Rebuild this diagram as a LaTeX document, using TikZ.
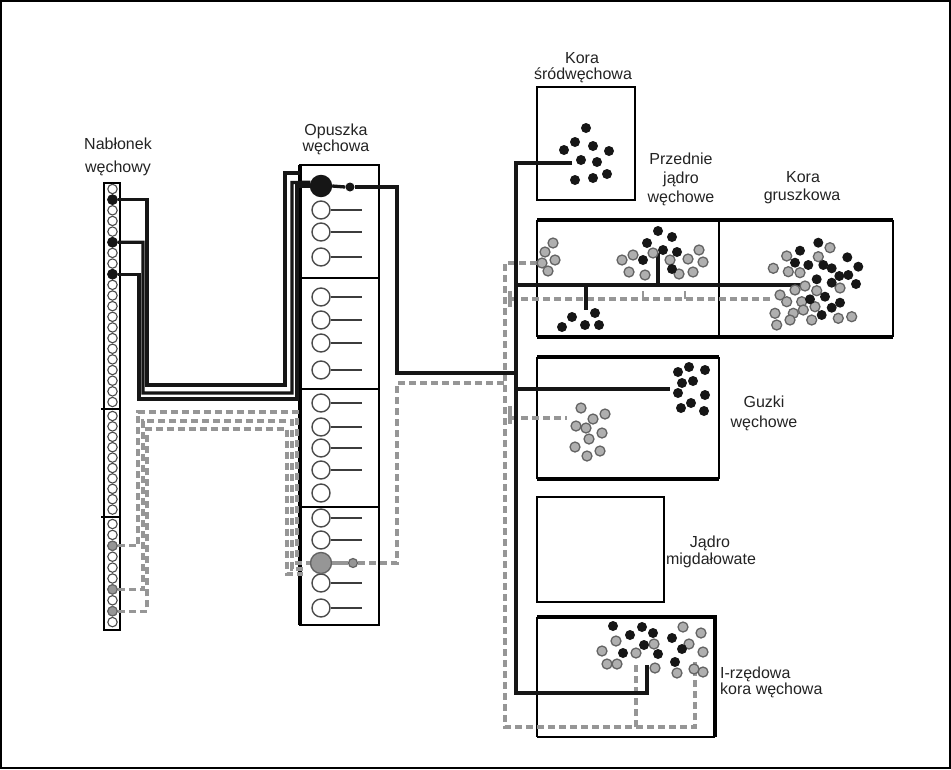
\documentclass[tikz,border=0pt]{standalone}
\usepackage{fontspec}
\setmainfont{Liberation Sans}
\definecolor{ink}{RGB}{22,22,22}
\definecolor{txt}{RGB}{35,35,35}
\definecolor{gline}{RGB}{150,150,150}
\definecolor{gfill}{RGB}{175,175,175}
\definecolor{gedge}{RGB}{100,100,100}
\definecolor{cedge}{RGB}{75,75,75}
\definecolor{stubc}{RGB}{60,60,60}
\begin{document}
\begin{tikzpicture}[x=1pt,y=-1pt]
\tikzset{
 wire/.style={line width=3.3pt, draw=ink},
 gdash/.style={line width=3.3pt, draw=gline, dash pattern=on 7pt off 4pt},
 gsolid/.style={line width=3.3pt, draw=gline},
 epi/.style={circle, draw=cedge, line width=1.1pt, minimum size=9.4pt, inner sep=0pt, fill=white},
 bc/.style={circle, draw=cedge, line width=1.4pt, minimum size=18pt, inner sep=0pt, fill=white},
 bdot/.style={circle, fill=ink, minimum size=10pt, inner sep=0pt},
 gdot/.style={circle, fill=gfill, draw=gedge, line width=1.3pt, minimum size=10pt, inner sep=0pt},
 stub/.style={line width=1.5pt, draw=stubc},
 lbl/.style={font=\fontsize{16}{19}\selectfont, text=txt, inner sep=0pt},
}
\useasboundingbox (0,0) rectangle (951,769);
\draw[line width=1.8pt] (0.9,0.9) rectangle (950.1,768.1);

% ---------- labels
\node[lbl,anchor=base] (l1a) at (118,149) {Nabłonek};
\node[lbl,anchor=base] (l1b) at (118,172) {węchowy};
\node[lbl,anchor=base] (l2a) at (336,135) {Opuszka};
\node[lbl,anchor=base] (l2b) at (336,151) {węchowa};
\node[lbl,anchor=base] (l3a) at (582,63) {Kora};
\node[lbl,anchor=base] (l3b) at (583,79) {śródwęchowa};
\node[lbl,anchor=base] (l4a) at (681,164) {Przednie};
\node[lbl,anchor=base] (l4b) at (681,183) {jądro};
\node[lbl,anchor=base] (l4c) at (681,202) {węchowe};
\node[lbl,anchor=base] (l5a) at (803,182) {Kora};
\node[lbl,anchor=base] (l5b) at (802,200) {gruszkowa};
\node[lbl,anchor=base] (l6a) at (764,407) {Guzki};
\node[lbl,anchor=base] (l6b) at (764,427) {węchowe};
\node[lbl,anchor=base] (l7a) at (710,547) {Jądro};
\node[lbl,anchor=base] (l7b) at (711,564) {migdałowate};
\node[lbl,anchor=base west] (l8a) at (720,678) {I-rzędowa};
\node[lbl,anchor=base west] (l8b) at (720,694) {kora węchowa};

% ---------- right boxes
\draw[line width=2.2pt] (537,87) rectangle (635,200);
\draw[line width=1.6pt] (537,220) -- (537,337) (893,220) -- (893,337);
\draw[line width=1.3pt] (719,220) -- (719,337);
\draw[line width=3.8pt] (537,220) -- (893,220) (537,337) -- (893,337);
\draw[line width=2pt] (537,357) -- (537,479) (719,357) -- (719,479);
\draw[line width=3.4pt] (537,357) -- (719,357) (537,479) -- (719,479);
\draw[line width=2.8pt] (537,497) rectangle (664,602);
\draw[line width=2pt] (537,617) -- (537,737);
\draw[line width=3.4pt] (537,617) -- (715,617) -- (715,737);
\draw[line width=2.8pt] (537,737) -- (715,737);

% ---------- epithelium column
\draw[line width=1.5pt] (104,183) rectangle (120,630);
\draw[line width=2.6pt] (104,183) -- (104,630);
\draw[line width=2.6pt] (103,183) -- (120,183) (103,630) -- (120,630);
\draw[line width=2.6pt] (101,409) -- (120,409) (101,517) -- (120,517);
\foreach \k in {0,...,20} \node[epi] (eA\k) at (112.5,{189+10.65*\k}) {};
\foreach \k in {0,...,9} \node[epi] (eB\k) at (112.5,{416+10.4*\k}) {};
\foreach \k in {0,...,9} \node[epi] (eC\k) at (112.5,{524+10.9*\k}) {};
\foreach \n in {eA1,eA5,eA8} \node[epi, fill=ink, draw=ink] at (\n) {};
\foreach \n in {eC2,eC6,eC8} \node[epi, fill=gline, draw=gedge] at (\n) {};

% ---------- bulb
\draw[line width=2.4pt] (300,165) rectangle (379,625);
\draw[line width=2.6pt] (300,278) -- (379,278) (300,389) -- (379,389) (300,507) -- (379,507);
\draw[line width=3.2pt] (300,165) -- (300,625);
\foreach \yy/\ln [count=\i] in {210/1,232/1,257/1,297/1,320/1,343/1,370/1,403/1,427/1,448/1,470/1,493/0,518/1,540/1,583/1,608/1}{
  \node[bc] (c\i) at (321,\yy) {};
  \ifnum\ln=1 \draw[stub] (c\i.east) -- (362,\yy); \fi
}
\node[bc, minimum size=21pt, fill=ink, draw=ink] (b1) at (321,186) {};
\node[bc, minimum size=21pt, fill=gline, draw=gedge] (g1) at (321,563) {};
\node[circle, fill=ink, minimum size=9pt, inner sep=0pt] (bd) at (350,187) {};
\node[circle, fill=gline, draw=gedge, line width=1.2pt, minimum size=9pt, inner sep=0pt] (gd) at (353,563) {};

% ---------- grey dashed pathways
\draw[gdash] (eC2.east) -| (138,412) -| (297,563) -- (g1.west);
\draw[gdash] (eC6.east) -| (143,421) -| (292,569) -- (303,569);
\draw[gdash] (eC8.east) -| (147,429) -| (287,574) -- (303,574);
\draw[gsolid] (g1.east) -- (gd.west);
\draw[gdash] (gd.east) -- (397,563) |- (505,383);
\draw[gdash] (537,263) -| (505,727) -| (695,662);
\draw[gdash] (636,727) -- (636,663);
\draw[gdash] (510,299) -- (770,299);
\draw[gsolid] (510,291) -- (510,307);
\draw[line width=1.8pt, draw=gline] (643,291) -- (643,299) (685,291) -- (685,299);
\draw[gdash] (510,418) -- (567,418);
\draw[gsolid] (510,406) -- (510,424);

% ---------- black pathways
\draw[wire] (eA1.east) -| (147,385) -| (285,173) -- (300,173);
\draw[wire] (eA5.east) -| (143,393) -| (292,182.6) -- (b1.160);
\draw[wire] (eA8.east) -| (139,399) -| (297,186) -- (b1.west);
\draw[wire] (b1.east) -- (bd.west);
\draw[wire] (bd.east) -- (397,187) |- (516,373);
\draw[wire, line width=3.6pt] (572,163) -| (516,693) -| (647,665);
\draw[wire] (516,285) -- (805,285);
\draw[wire] (586,285) -- (586,310);
\draw[wire] (658,285) -- (658,253);
\draw[wire] (516,389) -- (670,389);

% ---------- dot clusters
\foreach \x/\y [count=\i] in {586/128,575/142,593/146,564/150,609/151,581/160,597/162,575/180,593/178,607/174}
  \node[bdot] (ks\i) at (\x,\y) {};
\foreach \x/\y [count=\i] in {553/243,545/252,555/260,542/263,548/271}
  \node[gdot] (pg\i) at (\x,\y) {};
\foreach \x/\y [count=\i] in {653/253,670/260,688/259,699/250,703/262,622/260,633/255,629/272,645/275,679/274,693/272}
  \node[gdot] (mg\i) at (\x,\y) {};
\foreach \x/\y [count=\i] in {658/231,672/237,647/243,663/250,677/252,643/260,672/269}
  \node[bdot] (mb\i) at (\x,\y) {};
\foreach \x/\y [count=\i] in {572/317,562/327,585/325,595/313,599/325}
  \node[bdot] (lb\i) at (\x,\y) {};
\foreach \x/\y [count=\i] in {830/247.7,786.7/256,818.3/256.7,773.3/268.3,788.3/271.7,800/272.7,805/286,840/288,795/290,816.7/290.7,780/295,786.7/301.7,801.7/301.7,815/306.7,803.3/310,775/313.3,793.3/313.3,811.7/320,838.3/318.3,851.7/316.7,790/320,776.7/325}
  \node[gdot] (kg\i) at (\x,\y) {};
\foreach \x/\y [count=\i] in {818.3/242.7,800/250.7,847.3/257.3,795/262.7,808.3/265,823.3/265,858.3/266.7,831.7/268.3,839.3/276,848.3/275,816.7/279.3,856/284,831.7/282.7,810/299.3,825/296.7,840/302.7,831.7/307.7,821.7/315}
  \node[bdot] (kb\i) at (\x,\y) {};
\foreach \x/\y [count=\i] in {678/372,689/367,705/370,682/383,693/381,678/393,705/395,681/408,691/403,704/411}
  \node[bdot] (gb\i) at (\x,\y) {};
\foreach \x/\y [count=\i] in {581/408,605/414,593/419,576/426,586/428,602/433,589/439,575/447,600/451,587/456}
  \node[gdot] (gg\i) at (\x,\y) {};
\foreach \x/\y [count=\i] in {616/641,602/651,636/653,654/644,607/664,617/664,655/668,683/627,701/633,689/644,703/652,703/672,677/673,694/669}
  \node[gdot] (ig\i) at (\x,\y) {};
\foreach \x/\y [count=\i] in {613/626,642/627,630/635,653/633,672/638,644/645,623/653,658/654,682/649,675/662}
  \node[bdot] (ib\i) at (\x,\y) {};
\end{tikzpicture}
\end{document}
